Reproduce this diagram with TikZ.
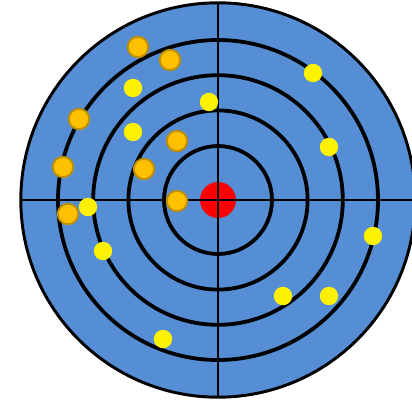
\documentclass[tikz,border=0pt]{standalone}
\usepackage{tikz}

\definecolor{boardblue}{RGB}{85,142,213}
\definecolor{shotorange}{RGB}{255,192,0}
\definecolor{shotrim}{RGB}{191,144,0}

\begin{document}
\begin{tikzpicture}[x=1cm, y=1cm]
  \clip (-5.45,5.0) rectangle (4.85,-4.975);
  \useasboundingbox (-5.45,5.0) rectangle (4.85,-4.975);

  \fill[boardblue] (0,0) circle (4.93);
  \fill[red] (0,0) circle (0.45);

  \foreach \r in {1.35,2.24,3.12,4.0}
    \draw[line width=2.7pt] (0,0) circle (\r);
  \draw[line width=2.1pt] (0,0) circle (4.93);

  \draw[line width=1.5pt] (0,-4.93) -- (0,4.93);
  \draw[line width=1.5pt] (-4.93,0) -- (4.93,0);

  % yellow hits
  \foreach \x/\y in {2.375/3.175, -0.225/2.45, -2.125/2.8, -2.125/1.7,
                     2.775/1.325, -3.25/-0.175, -2.875/-1.275, 3.875/-0.9,
                     1.625/-2.4, 2.775/-2.4, -1.375/-3.475}
    \fill[yellow] (\x,\y) circle (0.23);

  % orange hits
  \foreach \x/\y in {-2.0/3.825, -1.2/3.5, -3.475/2.025, -3.875/0.825,
                     -1.025/1.475, -1.85/0.775, -1.025/-0.025, -3.75/-0.35}
    \draw[shotrim, fill=shotorange, line width=1.4pt] (\x,\y) circle (0.255);
\end{tikzpicture}
\end{document}
